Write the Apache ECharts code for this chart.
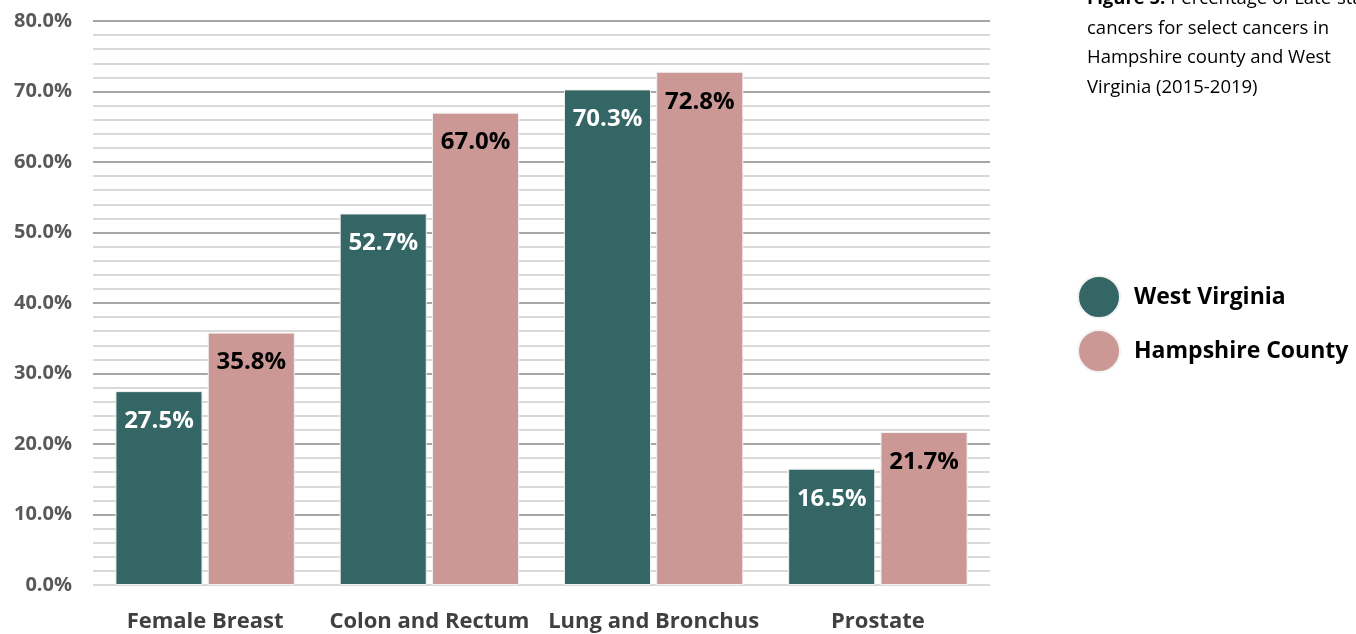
<!DOCTYPE html>
<html>
<head>
<meta charset="utf-8">
<script src="https://cdn.jsdelivr.net/npm/echarts@6/dist/echarts.min.js"></script>
<style>
html,body{margin:0;padding:0;background:#fff;}
#chart{width:1356px;height:634px;}
</style>
</head>
<body>
<div id="chart"></div>
<script>
const categories = ['Female Breast', 'Colon and Rectum', 'Lung and Bronchus', 'Prostate'];
const westVirginia = [27.5, 52.7, 70.3, 16.5];
const hampshireCounty = [35.8, 67.0, 72.8, 21.7];
const seriesNames = ['West Virginia', 'Hampshire County'];
const titleLines = ['{b|Figure 5:} Percentage of Late-stage', 'cancers for select cancers in', 'Hampshire county and West', 'Virginia (2015-2019)'];

const FONT = '"Open Sans", sans-serif';
const chart = echarts.init(document.getElementById('chart'));
const splitColors = ['#d9d9d9'].concat(new Array(8).fill('#a6a6a6'));

chart.setOption({
  animation: false,
  textStyle: { fontFamily: FONT },
  grid: { left: 93, right: 366, top: 21, bottom: 49 },
  xAxis: {
    type: 'category',
    data: categories,
    axisLine: { show: false },
    axisTick: { show: false },
    axisLabel: { interval: 0, margin: 26, fontSize: 22, fontWeight: 'bold', color: '#404040', fontFamily: FONT }
  },
  yAxis: {
    type: 'value',
    min: 0, max: 80, interval: 10,
    axisLine: { show: false },
    axisTick: { show: false },
    axisLabel: {
      margin: 21, fontSize: 20, fontWeight: 'bold', color: '#595959', fontFamily: FONT,
      formatter: v => v.toFixed(1) + '%'
    },
    splitLine: { show: true, lineStyle: { color: splitColors, width: 2 } },
    minorTick: { show: false, splitNumber: 5 },
    minorSplitLine: { show: true, lineStyle: { color: '#d9d9d9', width: 2 } }
  },
  legend: {
    orient: 'vertical',
    left: 1077,
    top: 275,
    padding: 0,
    itemWidth: 42,
    itemHeight: 42,
    itemGap: 10,
    icon: 'circle',
    data: seriesNames,
    textStyle: { fontSize: 23, fontWeight: 'bold', color: '#000', fontFamily: FONT, padding: [0, 0, 0, 9] }
  },
  graphic: [{
    type: 'text',
    x: 1087,
    y: -16,
    style: {
      text: titleLines.join('\n'),
      fontSize: 18.5,
      fontFamily: FONT,
      fill: '#000',
      lineHeight: 29.5,
      rich: { b: { fontWeight: 'bold', fontSize: 18.5, fontFamily: FONT, lineHeight: 29.5 } }
    }
  }],
  series: [
    {
      name: seriesNames[0],
      type: 'bar',
      data: westVirginia,
      barCategoryGap: '20%',
      barGap: '6%',
      itemStyle: { color: '#336664', borderColor: '#f2f2f2', borderWidth: 1 },
      label: {
        show: true, position: 'insideTop', distance: 18,
        fontSize: 24, fontWeight: 'bold', color: '#fff', fontFamily: FONT,
        formatter: p => p.value.toFixed(1) + '%'
      }
    },
    {
      name: seriesNames[1],
      type: 'bar',
      data: hampshireCounty,
      itemStyle: { color: '#cb9896', borderColor: '#f2f2f2', borderWidth: 1 },
      label: {
        show: true, position: 'insideTop', distance: 18,
        fontSize: 24, fontWeight: 'bold', color: '#000', fontFamily: FONT,
        formatter: p => p.value.toFixed(1) + '%'
      }
    }
  ]
});
</script>
</body>
</html>
